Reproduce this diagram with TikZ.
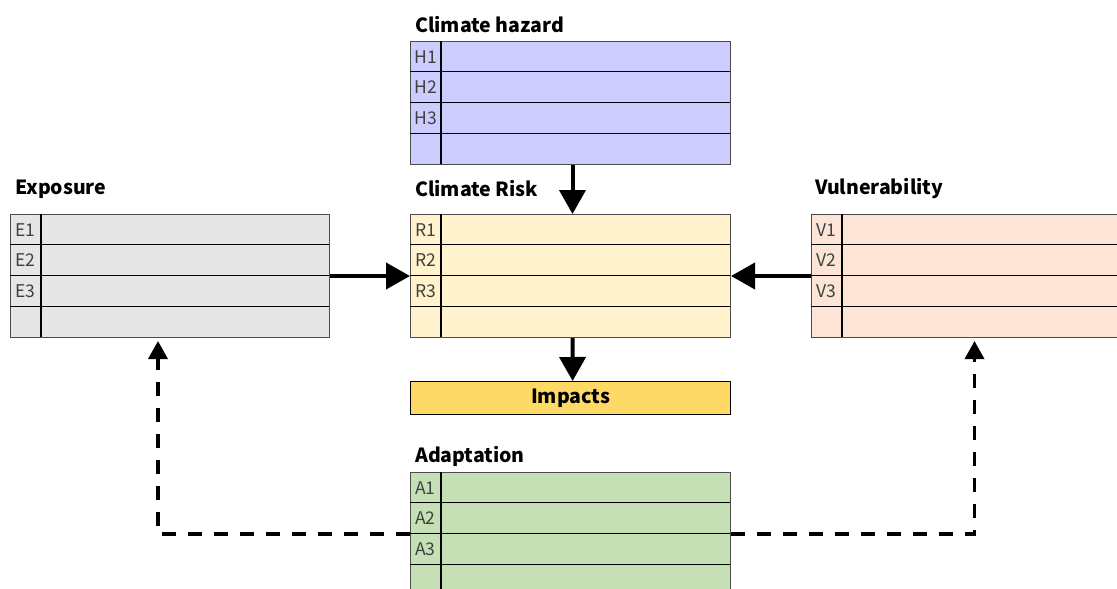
\documentclass[tikz,border=0pt]{standalone}
\usepackage{fontspec}
\setmainfont{Noto Sans CJK JP}
\usetikzlibrary{arrows.meta}
\definecolor{hzfill}{HTML}{CCCCFF}
\definecolor{rkfill}{HTML}{FFF2CC}
\definecolor{exfill}{HTML}{E7E6E6}
\definecolor{vufill}{HTML}{FCE4D6}
\definecolor{imfill}{HTML}{FFD966}
\definecolor{adfill}{HTML}{C5E0B4}
\definecolor{celltxt}{HTML}{404040}
\tikzset{
  tbl/.style={draw=black!70, line width=1pt, rectangle, anchor=north west,
    minimum height=123pt, inner sep=0pt},
  rowln/.style={draw=black, line width=1.2pt},
  cell/.style={text=celltxt, font=\fontsize{17.5}{20}\selectfont, inner sep=0pt},
  ttl/.style={anchor=west, font=\fontsize{19.5}{22}\selectfont\bfseries, inner sep=0pt},
  solidarr/.style={line width=4pt, -{Triangle[length=24pt,width=26pt]}},
  dasharr/.style={line width=3.5pt, dash pattern=on 14pt off 12pt,
    -{Triangle[length=18pt,width=19pt]}, shorten >=3pt}
}
\newcommand\drawtbl[8]{%
  \node[tbl, fill=#5, minimum width=#4pt] (#1) at (#2,#3) {};
  \foreach \k in {1,2,3} \draw[rowln] (#2,{#3+\k*30.75}) -- ++(#4,0);
  \draw[rowln] ({#2+31},#3) -- ++(0,123);
  \node[cell] at ({#2+15.5},{#3+15.6}) {#6};
  \node[cell] at ({#2+15.5},{#3+46.3}) {#7};
  \node[cell] at ({#2+15.5},{#3+77.1}) {#8};
}
\begin{document}
\begin{tikzpicture}[x=1pt,y=-1pt]
\useasboundingbox (0,0) rectangle (1117,589);
% titles
\node[ttl] (th) at (415,25) {Climate hazard};
\node[ttl] (te) at (15,189) {Exposure};
\node[ttl] (tr) at (415,189) {Climate Risk};
\node[ttl] (tv) at (815,189) {Vulnerability};
\node[ttl] (ta) at (415,456) {Adaptation};
% tables
\drawtbl{h}{410}{41}{320}{hzfill}{H1}{H2}{H3}
\drawtbl{r}{410}{214}{320}{rkfill}{R1}{R2}{R3}
\drawtbl{e}{10}{214}{319}{exfill}{E1}{E2}{E3}
\drawtbl{v}{811}{214}{320}{vufill}{V1}{V2}{V3}
\drawtbl{a}{410}{472}{320}{adfill}{A1}{A2}{A3}
% impacts
\node[draw=black, line width=1.2pt, fill=imfill, anchor=north west,
  minimum width=320pt, minimum height=33pt, inner sep=0pt,
  font=\fontsize{19.5}{22}\selectfont\bfseries] (im) at (410,381) {Impacts};
% solid arrows
\draw[solidarr] ([xshift=2pt]h.south) -- ([xshift=2pt]r.north);
\draw[solidarr] ([xshift=2pt]r.south) -- ([xshift=2pt]im.north);
\draw[solidarr] (e.east) -- (r.west);
\draw[solidarr] (v.west) -- (r.east);
% dashed arrows
\draw[dasharr] (a.west) -| ([xshift=-12pt]e.south);
\draw[dasharr] (a.east) -| ([xshift=3pt]v.south);
\end{tikzpicture}
\end{document}
